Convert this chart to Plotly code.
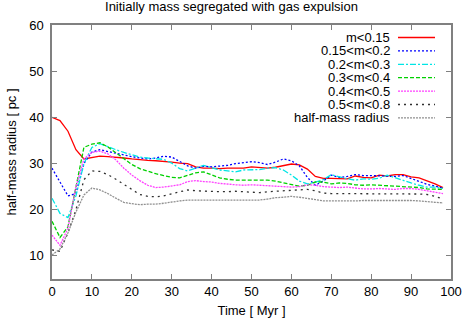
import plotly.graph_objects as go

# time in Myr, one snapshot every 2 Myr
time = list(range(0, 100, 2))

r_m015 = [40, 39.3, 37, 33, 31, 31.3, 31.6, 31.5, 31.4, 31.2, 31, 30.8, 30.7, 30.6, 30.5, 30.3, 30.1, 30, 29.3, 29,
          29, 28.9, 29, 29, 29, 29.3, 29.1, 29, 29.2, 29.5, 29.9, 29.7, 28.8, 27.2, 26.8, 26.8, 26.8, 26.7, 27.3, 27,
          26.9, 27.5, 27.3, 27.6, 27.6, 27.1, 26.9, 26.3, 25.6, 24.8]
r_m015_02 = [29, 26, 23, 23.5, 30, 32.5, 33, 32.6, 32.2, 31.8, 31.5, 31.2, 31, 31.2, 31.6, 31.4, 30.5, 29.5, 29, 29.4,
             29.3, 29.4, 29.6, 30, 30.2, 30.4, 30.2, 29.8, 30.3, 31, 30.6, 29.5, 27, 25.3, 26.2, 27.5, 27.0, 27.2, 27.6,
             27.4, 27.4, 27.3, 27.2, 27.2, 27.4, 26.8, 26.1, 25.5, 25.1, 24.7]
r_m02_03 = [22.5, 19.2, 18.3, 23, 30, 33.5, 34.3, 33.6, 33, 32.4, 31.9, 31.4, 31.2, 31.1, 30.9, 30.1, 28.9, 28.4, 29,
            29.6, 29.1, 28.6, 28.4, 28.2, 28.6, 28.6, 28.7, 29, 29.1, 28.6, 27.5, 26.2, 25.6, 26, 26.5, 27.6, 27.1,
            26.7, 26.4, 26.7, 26.6, 26.8, 27.5, 26.9, 26.3, 25.8, 25.3, 24.9, 24.9, 24.6]
r_m03_04 = [17.5, 14, 16.3, 25, 33.5, 34.2, 34.5, 33.6, 32.3, 30.9, 29.8, 28.9, 28.3, 27.8, 27.4, 27, 26.9, 27.4, 28,
            28.2, 27.6, 26.9, 26.6, 26.4, 26.4, 26.4, 26.4, 26.4, 26.2, 25.8, 25.4, 25.1, 25.3, 26, 26, 25.6, 25.8,
            25.7, 25.4, 25.3, 25.4, 25.3, 25.2, 25.1, 25, 24.9, 24.8, 24.5, 24.4, 24.4]
r_m04_05 = [14.5, 12.3, 16, 25, 31, 32.4, 32.7, 32.1, 30.8, 29, 27.5, 26.3, 25.3, 24.8, 24.9, 25.1, 25.4, 26.1, 26.3,
            26.1, 26, 25.7, 25.5, 25.4, 25.3, 25.4, 25.3, 25.2, 25.1, 25.0, 24.9, 25.0, 25.4, 25.3, 25.0, 24.9, 24.8,
            24.9, 24.7, 24.5, 24.5, 24.6, 24.5, 24.4, 24.6, 24.6, 24.4, 24.1, 23.7, 23.5]
r_m05_08 = [11.3, 11, 15, 20, 26.5, 28.4, 28.3, 27.6, 26.6, 25.5, 24.5, 23.3, 22.9, 22.8, 23, 23.4, 23.9, 24.3, 24.1,
            24, 24, 23.9, 23.9, 24, 23.9, 23.8, 23.7, 23.9, 24, 24.1, 24.2, 24.2, 24.4, 24.1, 23.6, 23.5, 23.5, 23.4,
            23.5, 23.5, 23.4, 23.5, 23.5, 23.5, 23.5, 23.5, 23.4, 23.3, 22.9, 22.3]
r_half = [10.2, 11.5, 15, 19.5, 23.2, 24.7, 24.3, 23.5, 22.5, 21.6, 21.3, 21.1, 21.2, 21.2, 21.4, 21.7, 21.9, 22.1,
          22.1, 22.1, 22.1, 22.1, 22.1, 22.1, 22.1, 22.1, 22.1, 22.3, 22.6, 22.7, 22.9, 22.7, 22.5, 22.2, 21.9, 21.9,
          21.9, 21.8, 21.9, 22.0, 22.0, 22.1, 22.1, 22.1, 22.1, 22.0, 21.9, 21.7, 21.6, 21.5]

names = ['m<0.15', '0.15<m<0.2', '0.2<m<0.3', '0.3<m<0.4', '0.4<m<0.5', '0.5<m<0.8', 'half-mass radius']
series = [r_m015, r_m015_02, r_m02_03, r_m03_04, r_m04_05, r_m05_08, r_half]
colors = ['#ff0000', '#0000ff', '#00e5e5', '#00d000', '#ff40ff', '#303030', '#909090']
dashes = ['solid', '2px,2px', '6px,2px,2px,2px', '4px,2px', '2px,1px', '2px,4px', '2px,1px']

fig = go.Figure()
for name, ys, color, dash in zip(names, series, colors, dashes):
    fig.add_trace(go.Scatter(x=time, y=ys, mode='lines', name=name, showlegend=False,
                             line=dict(color=color, dash=dash, width=1.3)))

# gnuplot-style key: right aligned text with the line sample on its right
row_h = 13.4 / 254
for i, (name, color, dash) in enumerate(zip(names, colors, dashes)):
    yk = (279 - 37.5) / 254 - i * row_h
    fig.add_annotation(x=(391 - 52) / 399, y=yk, xref='paper', yref='paper', text=name, showarrow=False,
                       xanchor='right', yanchor='middle', borderpad=0, font=dict(size=13, color='black'))
    fig.add_shape(type='line', xref='paper', yref='paper', x0=(398 - 52) / 399, x1=(435 - 52) / 399, y0=yk, y1=yk,
                  line=dict(color=color, dash=dash, width=1.3))

axis_style = dict(showline=True, linecolor='#808080', linewidth=1.5, mirror='ticks', ticks='inside', ticklen=5,
                  tickcolor='#808080', showgrid=False, zeroline=False, automargin=False,
                  tickfont=dict(size=13, color='black'))
fig.update_xaxes(range=[0, 100], dtick=10, title=dict(text='Time [ Myr ]', font=dict(size=13), standoff=8),
                 **axis_style)
fig.update_yaxes(range=[5, 60], tickvals=[10, 20, 30, 40, 50, 60], ticklabelstandoff=4,
                 title=dict(text='half-mass radius [ pc ]', font=dict(size=13), standoff=10), **axis_style)
fig.update_layout(width=463, height=320, margin=dict(l=52, r=12, t=25, b=41),
                  paper_bgcolor='white', plot_bgcolor='white',
                  font=dict(family='Liberation Sans, Arial, sans-serif', size=13, color='black'),
                  title=dict(text='Initially mass segregated with gas expulsion', x=0.5, xanchor='center',
                             y=0.995, yanchor='top', font=dict(size=13)))
# page body has a default 8px margin, drop it so the figure fills the window
fig.write_html("out.html", config={'displayModeBar': False},
               post_script="document.body.style.margin='0';")
